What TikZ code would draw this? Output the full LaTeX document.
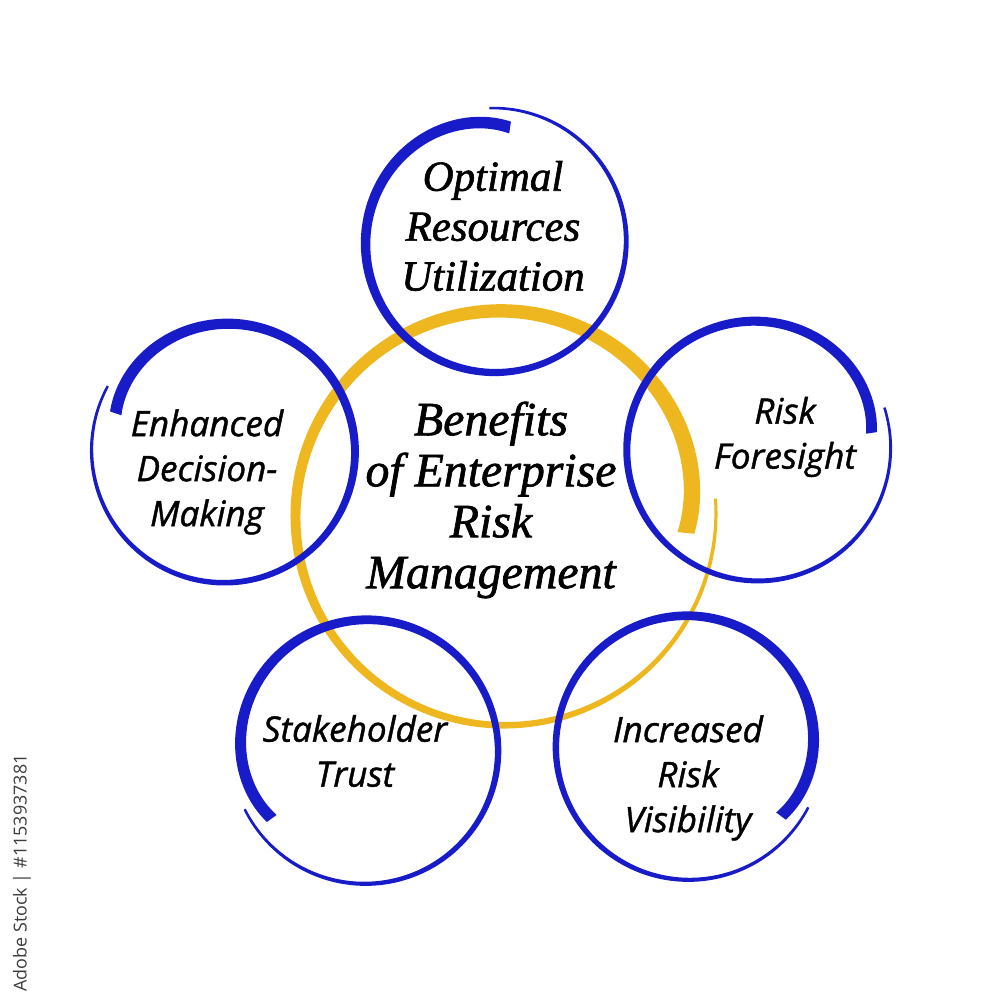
\documentclass[tikz,border=0pt]{standalone}
\usepackage{fontspec}
\setmainfont{Liberation Serif}
\newfontfamily\ringfont[FakeBold=1.2]{Open Sans}
\newfontfamily\hubfont[FakeBold=1.4]{Liberation Serif}
\newfontfamily\markfont{Open Sans}
\definecolor{RingBlue}{RGB}{24,28,200}
\definecolor{RingGold}{RGB}{238,183,32}
\definecolor{MarkGray}{RGB}{60,60,60}
% #1 colour, #2/#3 centre, #4 radius, #5 start angle, #6 turn (1 or -1), #7/#8 width at start/end
\newcommand{\brushring}[8]{%
  \fill[#1] plot[domain=0:370, samples=180, variable=\t]
    ({#2+(#4*(1+0.055*\t/370-0.09*exp(-\t/30))+(#7-(#7-#8)*\t/370)/2)*cos(#5+(#6)*\t)},
     {#3+(#4*(1+0.055*\t/370-0.09*exp(-\t/30))+(#7-(#7-#8)*\t/370)/2)*sin(#5+(#6)*\t)})
    -- plot[domain=370:0, samples=180, variable=\t]
    ({#2+(#4*(1+0.055*\t/370-0.09*exp(-\t/30))-(#7-(#7-#8)*\t/370)/2)*cos(#5+(#6)*\t)},
     {#3+(#4*(1+0.055*\t/370-0.09*exp(-\t/30))-(#7-(#7-#8)*\t/370)/2)*sin(#5+(#6)*\t)})
    -- cycle;}
\tikzset{
  ringtext/.style={align=center, font=\ringfont\itshape\fontsize{10}{12.8}\selectfont},
  toptext/.style={align=center, font=\hubfont\itshape\fontsize{12.2}{14.2}\selectfont},
  hubtext/.style={align=center, font=\hubfont\itshape\fontsize{13.6}{14.5}\selectfont}
}

\begin{document}
\begin{tikzpicture}[x=0.1mm, y=0.1mm]
  \useasboundingbox (0,0) rectangle (1000,1000);
  \brushring{RingGold}{503}{485}{202}{-5.6}{1}{17}{3}
  \brushring{RingBlue}{494}{758}{127}{82}{1}{12}{2.5}
  \brushring{RingBlue}{225}{549}{127}{161}{-1}{12}{2.5}
  \brushring{RingBlue}{757}{551}{127}{8}{1}{11}{2.5}
  \brushring{RingBlue}{366}{250}{128}{216}{-1}{12}{2.5}
  \brushring{RingBlue}{688}{254}{128}{323}{1}{12}{2.5}
  \node[hubtext] (hub) at (491,500) {Benefits\\of Enterprise\\Risk\\Management};
  \node[toptext] (optimal) at (493,774) {Optimal\\Resources\\Utilization};
  \node[ringtext] (decision) at (207,528) {Enhanced\\Decision-\\Making};
  \node[ringtext] (foresight) at (785,563) {Risk\\Foresight};
  \node[ringtext] (trust) at (355,249) {Stakeholder\\Trust};
  \node[ringtext] (visibility) at (688,222) {Increased\\Risk\\Visibility};
  \node[rotate=90, text=MarkGray, font=\markfont\fontsize{5.1}{6}\selectfont] (stock) at (22,127) {Adobe Stock | \#1153937381};
\end{tikzpicture}
\end{document}
